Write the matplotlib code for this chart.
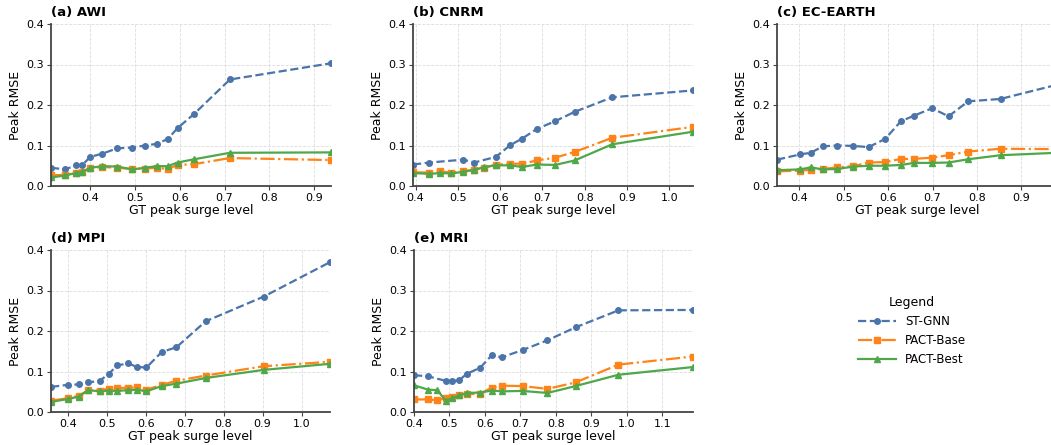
import matplotlib
matplotlib.use('Agg')
import matplotlib.pyplot as plt

# ---------------- data ----------------
titles = ['(a) AWI', '(b) CNRM', '(c) EC-EARTH', '(d) MPI', '(e) MRI']

# (a) AWI
awi_x = [0.312, 0.344, 0.367, 0.382, 0.400, 0.427, 0.460, 0.494, 0.522, 0.548, 0.573, 0.595, 0.632, 0.712, 0.938]
awi_gnn = [0.045, 0.041, 0.051, 0.052, 0.072, 0.080, 0.093, 0.095, 0.100, 0.104, 0.116, 0.143, 0.178, 0.263, 0.303]
awi_base = [0.026, 0.028, 0.032, 0.035, 0.044, 0.047, 0.045, 0.042, 0.043, 0.045, 0.042, 0.052, 0.054, 0.069, 0.064]
awi_best = [0.021, 0.026, 0.032, 0.035, 0.045, 0.049, 0.048, 0.041, 0.045, 0.049, 0.049, 0.058, 0.066, 0.082, 0.083]

# (b) CNRM
cnrm_x_gnn = [0.394, 0.433, 0.513, 0.539, 0.590, 0.624, 0.652, 0.687, 0.730, 0.776, 0.865, 1.056]
cnrm_gnn = [0.053, 0.058, 0.065, 0.058, 0.072, 0.101, 0.117, 0.141, 0.160, 0.183, 0.219, 0.236]
cnrm_x = [0.394, 0.433, 0.459, 0.485, 0.513, 0.539, 0.563, 0.590, 0.624, 0.652, 0.687, 0.730, 0.776, 0.865, 1.056]
cnrm_base = [0.034, 0.033, 0.036, 0.033, 0.037, 0.040, 0.045, 0.053, 0.055, 0.055, 0.063, 0.070, 0.084, 0.119, 0.146]
cnrm_best = [0.032, 0.030, 0.032, 0.031, 0.035, 0.040, 0.047, 0.051, 0.051, 0.047, 0.053, 0.052, 0.063, 0.103, 0.134]

# (c) EC-EARTH
ec_x = [0.350, 0.402, 0.426, 0.453, 0.486, 0.522, 0.556, 0.593, 0.629, 0.659, 0.699, 0.736, 0.780, 0.853, 0.980]
ec_gnn = [0.065, 0.078, 0.082, 0.098, 0.100, 0.099, 0.096, 0.116, 0.160, 0.174, 0.192, 0.172, 0.209, 0.215, 0.250]
ec_base = [0.036, 0.038, 0.040, 0.042, 0.046, 0.049, 0.058, 0.059, 0.067, 0.067, 0.070, 0.076, 0.085, 0.092, 0.091]
ec_best = [0.039, 0.041, 0.046, 0.041, 0.042, 0.048, 0.050, 0.050, 0.052, 0.057, 0.057, 0.058, 0.066, 0.076, 0.082]

# (d) MPI
mpi_x = [0.357, 0.400, 0.428, 0.453, 0.482, 0.505, 0.527, 0.555, 0.578, 0.602, 0.641, 0.679, 0.754, 0.903, 1.073]
mpi_gnn = [0.062, 0.067, 0.068, 0.073, 0.077, 0.094, 0.115, 0.120, 0.111, 0.110, 0.148, 0.160, 0.224, 0.285, 0.370]
mpi_base = [0.028, 0.034, 0.040, 0.054, 0.053, 0.058, 0.059, 0.060, 0.061, 0.055, 0.067, 0.077, 0.090, 0.113, 0.124]
mpi_best = [0.025, 0.032, 0.038, 0.054, 0.051, 0.053, 0.052, 0.054, 0.055, 0.051, 0.064, 0.070, 0.084, 0.104, 0.119]

# (e) MRI
mri_x_gnn = [0.400, 0.440, 0.489, 0.508, 0.527, 0.548, 0.586, 0.619, 0.647, 0.706, 0.776, 0.855, 0.976, 1.186]
mri_gnn = [0.091, 0.088, 0.077, 0.077, 0.078, 0.094, 0.109, 0.140, 0.135, 0.153, 0.177, 0.209, 0.251, 0.252]
mri_x = [0.400, 0.440, 0.466, 0.489, 0.508, 0.527, 0.548, 0.586, 0.619, 0.647, 0.706, 0.776, 0.855, 0.976, 1.186]
mri_base = [0.031, 0.031, 0.029, 0.034, 0.038, 0.043, 0.044, 0.045, 0.060, 0.065, 0.064, 0.057, 0.073, 0.117, 0.137]
mri_best = [0.066, 0.055, 0.054, 0.028, 0.034, 0.041, 0.047, 0.048, 0.053, 0.051, 0.052, 0.047, 0.064, 0.092, 0.111]

panels = [
    (awi_x, awi_gnn, awi_x, awi_base, awi_best),
    (cnrm_x_gnn, cnrm_gnn, cnrm_x, cnrm_base, cnrm_best),
    (ec_x, ec_gnn, ec_x, ec_base, ec_best),
    (mpi_x, mpi_gnn, mpi_x, mpi_base, mpi_best),
    (mri_x_gnn, mri_gnn, mri_x, mri_base, mri_best),
]

# ---------------- style ----------------
C_GNN = '#4a74aa'
C_BASE = '#ff8316'
C_BEST = '#4ea84a'
C_SPINE = '#444444'

plt.rcParams['font.family'] = ['DejaVu Sans']

fig = plt.figure(figsize=(10.51, 4.45), dpi=100)

W, H = 1051, 445
boxes = [  # left, top, right, bottom in pixels
    (51, 24, 331, 186),
    (413, 24, 693, 186),
    (777, 24, 1057, 186),
    (51, 250, 330, 412),
    (414, 250, 693, 412),
]

for i, (box, data) in enumerate(zip(boxes, panels)):
    l, t, r, b = box
    ax = fig.add_axes([l / W, 1 - b / H, (r - l) / W, (b - t) / H])
    xg, yg, xp, yb, yp = data
    ax.plot(xg, yg, color=C_GNN, ls='--', lw=1.6, marker='o', ms=4, label='ST-GNN', clip_on=True)
    ax.plot(xp, yb, color=C_BASE, ls='-.', lw=1.6, marker='s', ms=4, label='PACT-Base')
    ax.plot(xp, yp, color=C_BEST, ls='-', lw=1.6, marker='^', ms=4, label='PACT-Best')

    xmin = min(min(xg), min(xp))
    xmax = max(max(xg), max(xp))
    ax.set_xlim(xmin, xmax)
    ax.set_ylim(0, 0.4)
    ax.set_yticks([0.0, 0.1, 0.2, 0.3, 0.4])
    ax.grid(True, ls='--', lw=0.6, color='#dddddd')
    ax.set_axisbelow(True)
    for s in ['top', 'right']:
        ax.spines[s].set_visible(False)
    for s in ['left', 'bottom']:
        ax.spines[s].set_color(C_SPINE)
        ax.spines[s].set_linewidth(1.3)
    ax.tick_params(labelsize=8, length=3, color=C_SPINE, pad=2)
    ax.set_xlabel('GT peak surge level', fontsize=9, labelpad=1)
    ax.set_ylabel('Peak RMSE', fontsize=9, labelpad=3)
    ax.set_title(titles[i], loc='left', fontsize=9.5, fontweight='bold', pad=6)

    if i == 0:
        handles, labels = ax.get_legend_handles_labels()

fig.legend(handles, labels, title='Legend', loc='center',
           bbox_to_anchor=(912 / W, 1 - 331 / H), frameon=False,
           fontsize=8.5, title_fontsize=9, handlelength=3.2)

fig.savefig('out.png', dpi=100)
